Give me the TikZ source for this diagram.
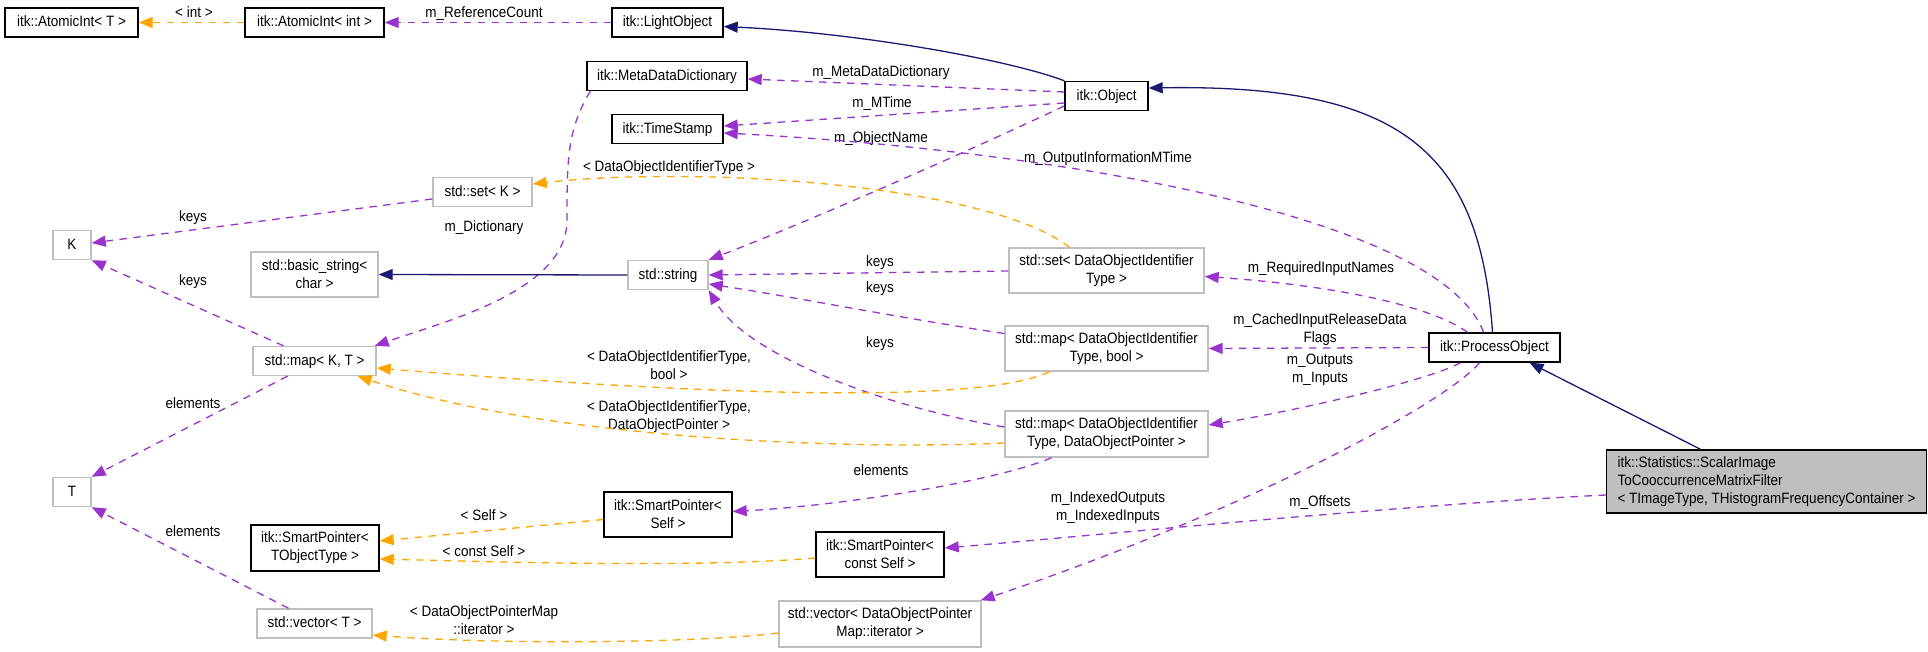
\documentclass[tikz,border=0pt]{standalone}
\usepackage{fontspec}
\setmainfont{Liberation Sans}[FakeStretch=0.9]
\usetikzlibrary{arrows.meta}
\definecolor{purp}{HTML}{9A32CD}
\definecolor{orng}{HTML}{FFA500}
\definecolor{navyc}{HTML}{191970}
\definecolor{gborder}{HTML}{BFBFBF}
\definecolor{gfill}{HTML}{BFBFBF}
\begin{document}
\begin{tikzpicture}[x=1pt,y=-1pt,
  every node/.style={font=\fontsize{15}{18}\selectfont},
  box/.style={draw=black, line width=1.4pt, inner sep=0pt, align=center},
  gbox/.style={draw=gborder, line width=1.4pt, inner sep=0pt, align=center},
  one/.style={text height=11pt, text depth=2.5pt},
  lbl/.style={inner sep=0pt, align=center, text height=11pt, text depth=2.5pt},
  lbltwo/.style={inner sep=0pt, align=center},
  mem/.style={draw=purp, line width=1.3pt, dash pattern=on 7.5pt off 6.5pt, -{Triangle[length=14pt,width=11pt]}},
  tpl/.style={draw=orng, line width=1.3pt, dash pattern=on 7.5pt off 6.5pt, -{Triangle[length=14pt,width=11pt]}},
  inh/.style={draw=navyc, line width=1.3pt, -{Triangle[length=14pt,width=11pt]}}
]
\useasboundingbox (0,0) rectangle (1928,652);

% nodes
\node[box,one,minimum width=133pt,minimum height=29pt] (aiT) at (71.5,22.5) {itk::AtomicInt< T >};
\node[box,one,minimum width=139pt,minimum height=29pt] (aiInt) at (314.5,22.5) {itk::AtomicInt< int >};
\node[box,one,minimum width=111pt,minimum height=29pt] (light) at (667.5,22.5) {itk::LightObject};
\node[box,one,minimum width=160pt,minimum height=29pt] (mdd) at (667,76) {itk::MetaDataDictionary};
\node[box,one,minimum width=111pt,minimum height=29pt] (ts) at (667.5,129) {itk::TimeStamp};
\node[box,one,minimum width=83pt,minimum height=29pt] (obj) at (1106.5,96) {itk::Object};
\node[gbox,one,minimum width=99pt,minimum height=29pt] (setK) at (482.5,192) {std::set< K >};
\node[gbox,one,minimum width=38pt,minimum height=29pt] (K) at (72,245) {K};
\node[gbox,minimum width=127pt,minimum height=45pt] (bstr) at (314.5,274.5) {std::basic\_string<\\char >};
\node[gbox,one,minimum width=80pt,minimum height=29pt] (str) at (668,275) {std::string};
\node[gbox,minimum width=195pt,minimum height=45pt] (setD) at (1106.5,270.5) {std::set< DataObjectIdentifier\\Type >};
\node[gbox,minimum width=203pt,minimum height=45pt] (mapB) at (1106.5,348.5) {std::map< DataObjectIdentifier\\Type, bool >};
\node[gbox,minimum width=203pt,minimum height=46pt] (mapP) at (1106.5,434) {std::map< DataObjectIdentifier\\Type, DataObjectPointer >};
\node[gbox,one,minimum width=123pt,minimum height=29pt] (mapKT) at (314.5,361) {std::map< K, T >};
\node[box,one,minimum width=131pt,minimum height=29pt] (proc) at (1494.5,347.5) {itk::ProcessObject};
\node[gbox,one,minimum width=38pt,minimum height=29pt] (T) at (72,492) {T};
\node[box,minimum width=128pt,minimum height=46pt] (spT) at (315,548) {itk::SmartPointer<\\TObjectType >};
\node[box,minimum width=128pt,minimum height=45pt] (spS) at (668,514.5) {itk::SmartPointer<\\Self >};
\node[box,minimum width=128pt,minimum height=45pt] (spC) at (880,554.5) {itk::SmartPointer<\\const Self >};
\node[gbox,one,minimum width=115pt,minimum height=29pt] (vecT) at (314.5,623.5) {std::vector< T >};
\node[gbox,minimum width=202pt,minimum height=46pt] (vecD) at (880,624) {std::vector< DataObjectPointer\\Map::iterator >};
\node[box,fill=gfill,align=left,minimum width=313pt,minimum height=63pt,inner xsep=11pt] (scal) at (1766.5,481.5) {itk::Statistics::ScalarImage\\ToCooccurrenceMatrixFilter\\< TImageType, THistogramFrequencyContainer >};

% labels
\node[lbl] (l1) at (194,13) {< int >};
\node[lbl] (l2) at (484,13) {m\_ReferenceCount};
\node[lbl] (l3) at (881,72) {m\_MetaDataDictionary};
\node[lbl] (l4) at (882,103) {m\_MTime};
\node[lbl] (l5) at (881,138) {m\_ObjectName};
\node[lbl] (l6) at (1108,158) {m\_OutputInformationMTime};
\node[lbl] (l7) at (669,167) {< DataObjectIdentifierType >};
\node[lbl] (l8) at (193,217) {keys};
\node[lbl] (l9) at (484,227) {m\_Dictionary};
\node[lbl] (l10) at (193,281) {keys};
\node[lbl] (l11) at (880,262) {keys};
\node[lbl] (l12) at (880,288) {keys};
\node[lbl] (l13) at (880,343) {keys};
\node[lbl] (l14) at (1321,268) {m\_RequiredInputNames};
\node[lbltwo] (l15) at (1320,330) {m\_CachedInputReleaseData\\Flags};
\node[lbltwo] (l16) at (1320,370) {m\_Outputs\\m\_Inputs};
\node[lbltwo] (l17) at (669,365) {< DataObjectIdentifierType,\\bool >};
\node[lbltwo] (l18) at (669,416.5) {< DataObjectIdentifierType,\\DataObjectPointer >};
\node[lbl] (l19) at (193,404) {elements};
\node[lbl] (l20) at (881,471) {elements};
\node[lbltwo] (l21) at (1108,507.5) {m\_IndexedOutputs\\m\_IndexedInputs};
\node[lbl] (l22) at (1320,502) {m\_Offsets};
\node[lbl] (l23) at (484,516) {< Self >};
\node[lbl] (l24) at (484,552) {< const Self >};
\node[lbl] (l25) at (193,532) {elements};
\node[lbltwo] (l26) at (484,620.5) {< DataObjectPointerMap\\::iterator >};

% edges
\draw[tpl] (aiInt.west) -- (aiT.east);
\draw[mem] (light.west) -- (aiInt.east);
\draw[inh] (obj.north west) .. controls (1010,60) and (860,33) .. ([yshift=-4pt]light.east);
\draw[mem] ([yshift=4pt]obj.west) -- ([yshift=-3pt]mdd.east);
\draw[mem] ([yshift=-7pt]obj.west) -- ([yshift=3pt]ts.east);
\draw[mem] ([yshift=-10pt]obj.west) .. controls (960,155) and (800,225) .. (str.north east);
\draw[mem] ([xshift=-11pt]proc.north) .. controls (1440,215) and (1050,150) .. ([yshift=-4pt]ts.east);
\draw[inh] ([xshift=-2pt]proc.north) .. controls (1480,150) and (1400,84) .. ([yshift=8pt]obj.east);
\draw[mem] ([xshift=-27pt]proc.north) .. controls (1430,305) and (1330,285) .. ([yshift=-6pt]setD.east);
\draw[mem] (proc.west) -- (mapB.east);
\draw[mem] ([xshift=-34pt]proc.south) .. controls (1430,380) and (1300,410) .. ([yshift=9pt]mapP.east);
\draw[mem] ([xshift=-15pt]proc.south) .. controls (1450,400) and (1250,510) .. ([xshift=-1pt]vecD.north east);
\draw[inh] ([xshift=-66pt]scal.north) -- ([xshift=35pt]proc.south);
\draw[tpl] ([xshift=-37pt]setD.north) .. controls (990,185) and (700,165) .. ([yshift=8pt]setK.east);
\draw[mem] ([yshift=-7pt]setK.west) -- ([yshift=2pt]K.east);
\draw[mem] ([xshift=-31pt]mapKT.north) -- (K.south east);
\draw[mem] ([xshift=-27pt]mapKT.south) -- (T.north east);
\draw[mem] ([xshift=-26pt]vecT.north) -- (T.south east);
\draw[mem] ([xshift=4pt]mdd.south west) .. controls (567,130) and (567,160) .. (567,220) .. controls (567,290) and (450,320) .. ([xshift=-2pt]mapKT.north east);
\draw[inh] (str.west) -- (bstr.east);
\draw[mem] ([yshift=-0.5pt]setD.west) -- (str.east);
\draw[mem] ([yshift=15pt]mapB.west) .. controls (900,318) and (800,298) .. ([yshift=-9pt]str.east);
\draw[mem] ([yshift=7pt]mapP.west) .. controls (900,410) and (750,360) .. (str.south east);
\draw[tpl] ([xshift=-57pt]mapB.south) .. controls (980,405) and (700,395) .. ([yshift=-7pt]mapKT.east);
\draw[tpl] ([yshift=-9pt]mapP.west) .. controls (850,450) and (550,440) .. ([xshift=-19pt]mapKT.south east);
\draw[mem] ([xshift=-55pt]mapP.south) .. controls (1000,480) and (850,505) .. ([yshift=3pt]spS.east);
\draw[tpl] ([yshift=-5pt]spS.west) -- ([yshift=7pt]spT.east);
\draw[tpl] ([yshift=-3.5pt]spC.west) .. controls (700,568) and (500,562) .. ([yshift=-11pt]spT.east);
\draw[tpl] ([yshift=-9pt]vecD.west) .. controls (700,643) and (500,645) .. ([yshift=-11.5pt]vecT.east);
\draw[mem] ([yshift=-13.5pt]scal.west) .. controls (1400,505) and (1100,535) .. ([yshift=6.5pt]spC.east);
\end{tikzpicture}
\end{document}
